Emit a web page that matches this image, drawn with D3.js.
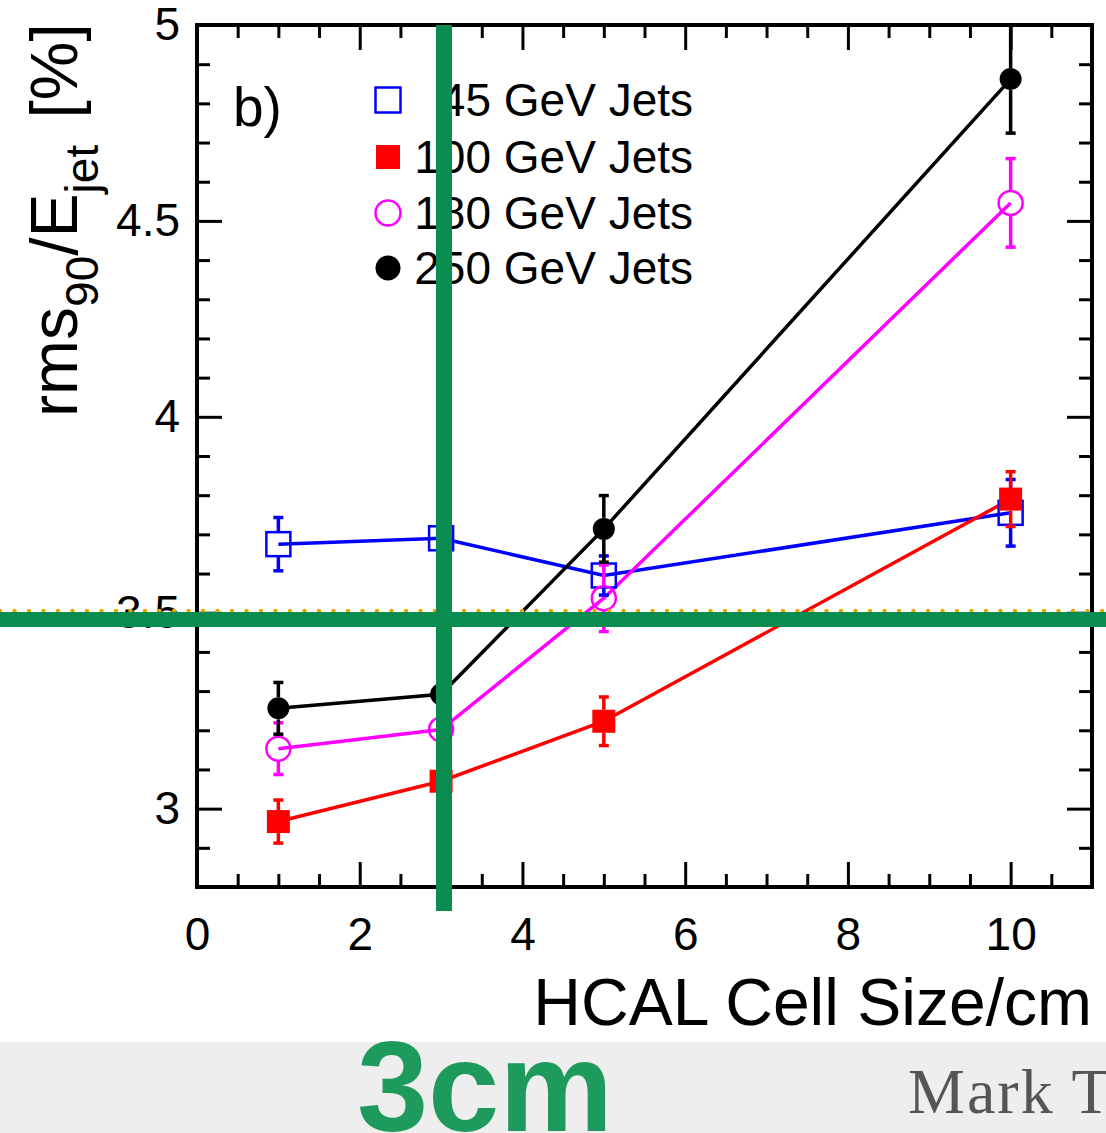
<!DOCTYPE html>
<html lang="en">
<head>
    <meta charset="UTF-8">
    <title>HCAL Cell Size</title>
    <script src="https://cdn.jsdelivr.net/npm/d3@7/dist/d3.min.js"></script>
    <style>
        body { margin: 0; background: #fff; }
        text { font-family: "Liberation Sans", Arial, sans-serif; }
    </style>
</head>
<body>
<div id="container"></div>

<script>
// data
let cellSize = [1, 3, 5, 10];

let jets45 = [3.675, 3.69, 3.595, 3.755];
let err45 = [0.068, 0.02, 0.05, 0.085];

let jets100 = [2.967, 3.07, 3.223, 3.79];
let err100 = [0.055, 0.02, 0.062, 0.07];

let jets180 = [3.153, 3.202, 3.537, 4.546];
let err180 = [0.066, 0.02, 0.085, 0.113];

let jets250 = [3.256, 3.292, 3.714, 4.862];
let err250 = [0.066, 0.02, 0.085, 0.138];

let legendLabels = ['45 GeV Jets', '100 GeV Jets', '180 GeV Jets', '250 GeV Jets'];
let xMajor = [0, 2, 4, 6, 8, 10];
let yMajor = [3, 3.5, 4, 4.5, 5];

let series = [
    {name: legendLabels[0], values: jets45, errors: err45, color: '#0000ff', marker: 'openSquare'},
    {name: legendLabels[1], values: jets100, errors: err100, color: '#ff0000', marker: 'fullSquare'},
    {name: legendLabels[2], values: jets180, errors: err180, color: '#ff00ff', marker: 'openCircle'},
    {name: legendLabels[3], values: jets250, errors: err250, color: '#000000', marker: 'fullCircle'}
];

let W = 1106, H = 1133;
let pLeft = 197, pRight = 1092, pTop = 25, pBottom = 887;

let svg = d3.select('#container')
    .append('svg')
    .attr('width', W)
    .attr('height', H);

let x = d3.scaleLinear().domain([0, 11]).range([pLeft, pRight]);
let y = d3.scaleLinear().domain([2.8, 5]).range([pBottom, pTop]);

let xMinor = d3.range(0.5, 11, 0.5).filter(v => !xMajor.includes(v));
let yMinor = d3.range(2.9, 5, 0.1).map(v => +v.toFixed(1)).filter(v => !yMajor.includes(v));

// axes: ticks pointing inside on all four sides
function styleAxis(g) {
    g.select('.domain').remove();
    g.selectAll('line').attr('stroke', '#000').attr('stroke-width', 3);
    g.selectAll('text').attr('font-size', 46).attr('fill', '#000')
        .attr('font-family', '"Liberation Sans", Arial, sans-serif');
}

svg.append('g').attr('transform', 'translate(0,' + pBottom + ')')
    .call(d3.axisBottom(x).tickValues(xMajor).tickSize(-25).tickPadding(30).tickFormat(d3.format('d')))
    .call(styleAxis);
svg.append('g').attr('transform', 'translate(0,' + pBottom + ')')
    .call(d3.axisBottom(x).tickValues(xMinor).tickSize(-13).tickFormat(''))
    .call(styleAxis);
svg.append('g').attr('transform', 'translate(0,' + pTop + ')')
    .call(d3.axisTop(x).tickValues(xMajor).tickSize(-25).tickFormat(''))
    .call(styleAxis);
svg.append('g').attr('transform', 'translate(0,' + pTop + ')')
    .call(d3.axisTop(x).tickValues(xMinor).tickSize(-13).tickFormat(''))
    .call(styleAxis);

svg.append('g').attr('transform', 'translate(' + pLeft + ',0)')
    .call(d3.axisLeft(y).tickValues(yMajor).tickSize(-25).tickPadding(17).tickFormat(d3.format('')))
    .call(styleAxis);
svg.append('g').attr('transform', 'translate(' + pLeft + ',0)')
    .call(d3.axisLeft(y).tickValues(yMinor).tickSize(-13).tickFormat(''))
    .call(styleAxis);
svg.append('g').attr('transform', 'translate(' + pRight + ',0)')
    .call(d3.axisRight(y).tickValues(yMajor).tickSize(-25).tickFormat(''))
    .call(styleAxis);
svg.append('g').attr('transform', 'translate(' + pRight + ',0)')
    .call(d3.axisRight(y).tickValues(yMinor).tickSize(-13).tickFormat(''))
    .call(styleAxis);

svg.append('rect')
    .attr('x', pLeft).attr('y', pTop)
    .attr('width', pRight - pLeft).attr('height', pBottom - pTop)
    .attr('fill', 'none').attr('stroke', '#000').attr('stroke-width', 4);

// axis titles
svg.append('text')
    .attr('x', pRight).attr('y', 1025)
    .attr('text-anchor', 'end')
    .attr('font-size', 66)
    .text('HCAL Cell Size/cm');

let yTitle = svg.append('text')
    .attr('transform', 'translate(77,220) rotate(-90)')
    .attr('text-anchor', 'middle')
    .attr('font-size', 66);
yTitle.append('tspan').text('rms');
yTitle.append('tspan').attr('dy', 21).attr('font-size', 46).text('90');
yTitle.append('tspan').attr('dy', -21).text('/E');
yTitle.append('tspan').attr('dy', 21).attr('font-size', 46).text('jet');
yTitle.append('tspan').attr('dy', -21).attr('dx', 8).text(' [%]');

svg.append('text')
    .attr('x', 233).attr('y', 126)
    .attr('font-size', 55)
    .text('b)');

// markers
function drawMarker(g, type, color, cx, cy, size) {
    let h = size / 2;
    if (type === 'openSquare') {
        g.append('rect').attr('x', cx - h).attr('y', cy - h).attr('width', size).attr('height', size)
            .attr('fill', 'none').attr('stroke', color).attr('stroke-width', 2.5);
    } else if (type === 'fullSquare') {
        g.append('rect').attr('x', cx - h).attr('y', cy - h).attr('width', size).attr('height', size)
            .attr('fill', color);
    } else if (type === 'openCircle') {
        g.append('circle').attr('cx', cx).attr('cy', cy).attr('r', h)
            .attr('fill', 'none').attr('stroke', color).attr('stroke-width', 2.5);
    } else {
        g.append('circle').attr('cx', cx).attr('cy', cy).attr('r', h).attr('fill', color);
    }
}

let line = d3.line()
    .x(d => x(d[0]))
    .y(d => y(d[1]));

let plot = svg.append('g');

series.forEach(s => {
    let pts = cellSize.map((c, i) => [c, s.values[i]]);
    plot.append('path')
        .datum(pts)
        .attr('d', line)
        .attr('fill', 'none')
        .attr('stroke', s.color)
        .attr('stroke-width', 3.5);
});

series.forEach(s => {
    let size = s.marker === 'fullSquare' ? 23 : (s.marker === 'fullCircle' ? 22 : 24);
    cellSize.forEach((c, i) => {
        let cx = x(c), cy = y(s.values[i]);
        let yHi = y(s.values[i] + s.errors[i]);
        let yLo = y(s.values[i] - s.errors[i]);
        [[cy - size / 2, yHi], [cy + size / 2, yLo]].forEach(seg => {
            if (Math.abs(seg[1] - cy) <= size / 2) return;
            plot.append('line')
                .attr('x1', cx).attr('x2', cx)
                .attr('y1', seg[0]).attr('y2', seg[1])
                .attr('stroke', s.color).attr('stroke-width', 3.5);
            plot.append('line')
                .attr('x1', cx - 5).attr('x2', cx + 5)
                .attr('y1', seg[1]).attr('y2', seg[1])
                .attr('stroke', s.color).attr('stroke-width', 3.5);
        });
        drawMarker(plot, s.marker, s.color, cx, cy, size);
    });
});

// legend
let legendRows = [100, 157, 213, 268];
series.forEach((s, i) => {
    drawMarker(svg, s.marker, s.color, 388, legendRows[i], s.marker === 'fullSquare' ? 24 : 25);
    svg.append('text')
        .attr('x', 693).attr('y', legendRows[i] + 16)
        .attr('text-anchor', 'end')
        .attr('font-size', 46)
        .text(s.name);
});

// slide overlay: dotted guide, green crosshair, footer band
svg.append('line')
    .attr('x1', 0).attr('x2', W)
    .attr('y1', 611).attr('y2', 611)
    .attr('stroke', '#e8a800').attr('stroke-width', 4.5)
    .attr('stroke-linecap', 'round')
    .attr('stroke-dasharray', '0 14.5');

svg.append('rect')
    .attr('x', 0).attr('y', 612)
    .attr('width', W).attr('height', 15)
    .attr('fill', '#088c50');
svg.append('rect')
    .attr('x', 436).attr('y', pTop)
    .attr('width', 16).attr('height', 911 - pTop)
    .attr('fill', '#088c50');

svg.append('rect')
    .attr('x', 0).attr('y', 1042)
    .attr('width', W).attr('height', H - 1042)
    .attr('fill', '#eeeeee');

svg.append('text')
    .attr('x', 485).attr('y', 1131)
    .attr('text-anchor', 'middle')
    .attr('font-size', 128)
    .attr('font-weight', 'bold')
    .attr('fill', '#1e9a5c')
    .text('3cm');

svg.append('text')
    .attr('x', 908).attr('y', 1113)
    .attr('font-size', 64)
    .attr('letter-spacing', 2)
    .attr('fill', '#555555')
    .style('font-family', '"Liberation Serif", "DejaVu Serif", serif')
    .text('Mark T');
</script>
</body>
</html>
